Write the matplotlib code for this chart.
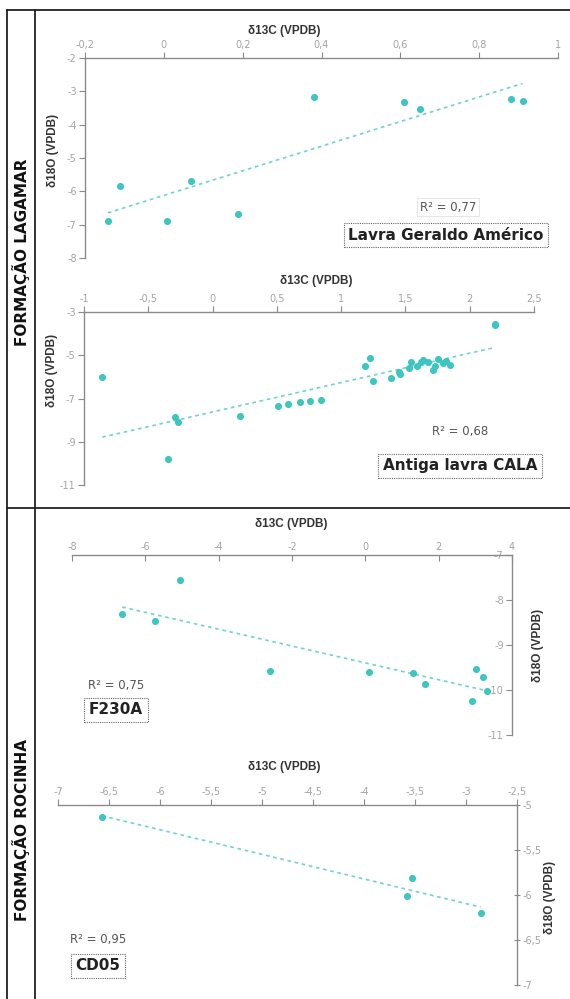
import numpy as np
import matplotlib
matplotlib.use('Agg')
import matplotlib.pyplot as plt
from matplotlib.lines import Line2D

plt.rcParams['axes.unicode_minus'] = False

# Lavra Geraldo Américo (Formação Lagamar)
lga_c = [-0.142, -0.111, 0.008, 0.069, 0.189, 0.380, 0.609, 0.650, 0.880, 0.910]
lga_o = [-6.89, -5.84, -6.89, -5.69, -6.69, -3.16, -3.32, -3.54, -3.22, -3.28]

# Antiga lavra CALA (Formação Lagamar)
cala_c = [-0.858, -0.343, -0.289, -0.272, 0.215, 0.507, 0.586, 0.677, 0.756, 0.844,
          1.187, 1.227, 1.246, 1.385, 1.448, 1.456, 1.524, 1.547, 1.589, 1.618,
          1.635, 1.677, 1.711, 1.731, 1.756, 1.796, 1.819, 1.844, 2.193, 2.195]
cala_o = [-6.01, -9.80, -7.84, -8.09, -7.83, -7.35, -7.27, -7.15, -7.11, -7.08,
          -5.52, -5.11, -6.20, -6.06, -5.76, -5.87, -5.61, -5.33, -5.48, -5.33,
          -5.20, -5.30, -5.67, -5.52, -5.17, -5.36, -5.25, -5.45, -3.62, -3.57]

# F230A (Formação Rocinha)
f230_c = [-6.63, -5.73, -5.05, -2.59, 0.11, 1.29, 1.64, 2.92, 3.02, 3.21, 3.32]
f230_o = [-8.32, -8.46, -7.55, -9.57, -9.61, -9.62, -9.87, -10.25, -9.54, -9.71, -10.03]

# CD05 (Formação Rocinha)
cd05_c = [-6.568, -3.525, -3.582, -2.857]
cd05_o = [-5.132, -5.807, -6.007, -6.196]

r2_labels = ['R² = 0,77', 'R² = 0,68', 'R² = 0,75', 'R² = 0,95']
names = ['Lavra Geraldo Américo', 'Antiga lavra CALA', 'F230A', 'CD05']
sections = ['FORMAÇÃO LAGAMAR', 'FORMAÇÃO ROCINHA']
xtitle = 'δ13C (VPDB)'
ytitle = 'δ18O (VPDB)'

TEAL = '#3cc6bf'
TEAL2 = '#6fd4cd'
AXC = '#8a8a8a'
W, H = 570, 999

fig = plt.figure(figsize=(W / 100, H / 100), dpi=100)


def fx(x):
    return x / W


def fy(y):
    return 1 - y / H


def fmt(v):
    return ('%g' % round(v, 3)).replace('.', ',')


# yside: 'left' normal, 'right' labels outside on right, 'rin' = axis on right, labels inside
def panel(box, xs, ys, xlim, ylim, xstep, ystep, yside='left', xdir='out', ydir='out'):
    l, r, t, b = box
    ax = fig.add_axes([fx(l), fy(b), (r - l) / W, (b - t) / H])
    ax.set_xlim(xlim)
    ax.set_ylim(ylim)
    ax.patch.set_alpha(0)
    for s in ax.spines.values():
        s.set_visible(False)
    side = 'right' if yside == 'right' else 'left'
    for s in ['top', side]:
        ax.spines[s].set_visible(True)
        ax.spines[s].set_color(AXC)
        ax.spines[s].set_linewidth(1.0)
    if yside == 'rin':
        ax.spines['left'].set_position(('axes', 1.0))
    ax.xaxis.tick_top()
    if yside == 'right':
        ax.yaxis.tick_right()
    xt = np.arange(xlim[0], xlim[1] + 1e-9, xstep)
    yt = np.arange(ylim[0], ylim[1] + 1e-9, ystep)
    ax.set_xticks(xt)
    ax.set_yticks(yt)
    ax.set_xticklabels([fmt(v) for v in xt])
    ax.set_yticklabels([fmt(v) for v in yt])
    ax.tick_params(colors=AXC, labelcolor='#a3a3a3', labelsize=7,
                   length=4, width=0.8, pad=2)
    ax.tick_params(axis='x', direction=xdir)
    ax.tick_params(axis='y', direction=ydir)
    ax.scatter(xs, ys, s=26, color=TEAL, lw=0, zorder=3, clip_on=False)
    k, c = np.polyfit(xs, ys, 1)
    xx = np.array([min(xs), max(xs)])
    ax.plot(xx, k * xx + c, ls=(0, (2.2, 2.2)), color=TEAL2, lw=1.2)
    return ax


panel((85, 558, 58, 258), lga_c, lga_o, (-0.2, 1.0), (-8, -2), 0.2, 1)
panel((84, 534, 312, 485), cala_c, cala_o, (-1, 2.5), (-11, -3), 0.5, 2)
panel((72, 512, 555, 735), f230_c, f230_o, (-8, 4), (-11, -7), 2, 1,
      yside='rin', xdir='in')
panel((58, 517, 805, 985), cd05_c, cd05_o, (-7, -2.5), (-7, -5), 0.5, 0.5,
      yside='right', ydir='inout')

# axis titles
tkw = dict(fontsize=8.5, fontweight='bold', color='#333333', family='Liberation Sans',
           ha='center', va='center')
for x, y in [(284, 31), (316, 281), (291, 524), (284, 767)]:
    fig.text(fx(x), fy(y), xtitle, **tkw)
for x, y in [(53, 150), (52, 370), (538, 645), (550, 897)]:
    fig.text(fx(x), fy(y), ytitle, rotation=90, **tkw)

# R² and sample names
r2_pos = [(448, 207), (460, 432), (116, 686), (98, 940)]
name_pos = [(446, 235), (460, 466), (116, 710), (98, 966)]
for i in range(4):
    bb = dict(boxstyle='square,pad=0.25', fc='white', ec='#e2e2e2', lw=0.6) if i == 0 else None
    fig.text(fx(r2_pos[i][0]), fy(r2_pos[i][1]), r2_labels[i], fontsize=8.5,
             color='#555555', ha='center', va='center', bbox=bb)
    fig.text(fx(name_pos[i][0]), fy(name_pos[i][1]), names[i], fontsize=11,
             fontweight='bold', color='#222222', ha='center', va='center',
             bbox=dict(boxstyle='square,pad=0.3', fc='white', ec='#666666',
                       ls=(0, (1, 1)), lw=0.8))

# frame
lk = dict(color='#222222', lw=1.3, transform=fig.transFigure)
fig.add_artist(Line2D([fx(7), fx(7)], [fy(10), fy(999)], **lk))
fig.add_artist(Line2D([fx(35), fx(35)], [fy(10), fy(999)], **lk))
fig.add_artist(Line2D([fx(7), fx(570)], [fy(10), fy(10)], **lk))
fig.add_artist(Line2D([fx(7), fx(570)], [fy(508), fy(508)], **lk))

fig.text(fx(21), fy(252), sections[0], rotation=90, fontsize=11, fontweight='bold',
         color='#111111', ha='center', va='center')
fig.text(fx(21), fy(830), sections[1], rotation=90, fontsize=11, fontweight='bold',
         color='#111111', ha='center', va='center')

fig.savefig('out.png', dpi=100, facecolor='white')
